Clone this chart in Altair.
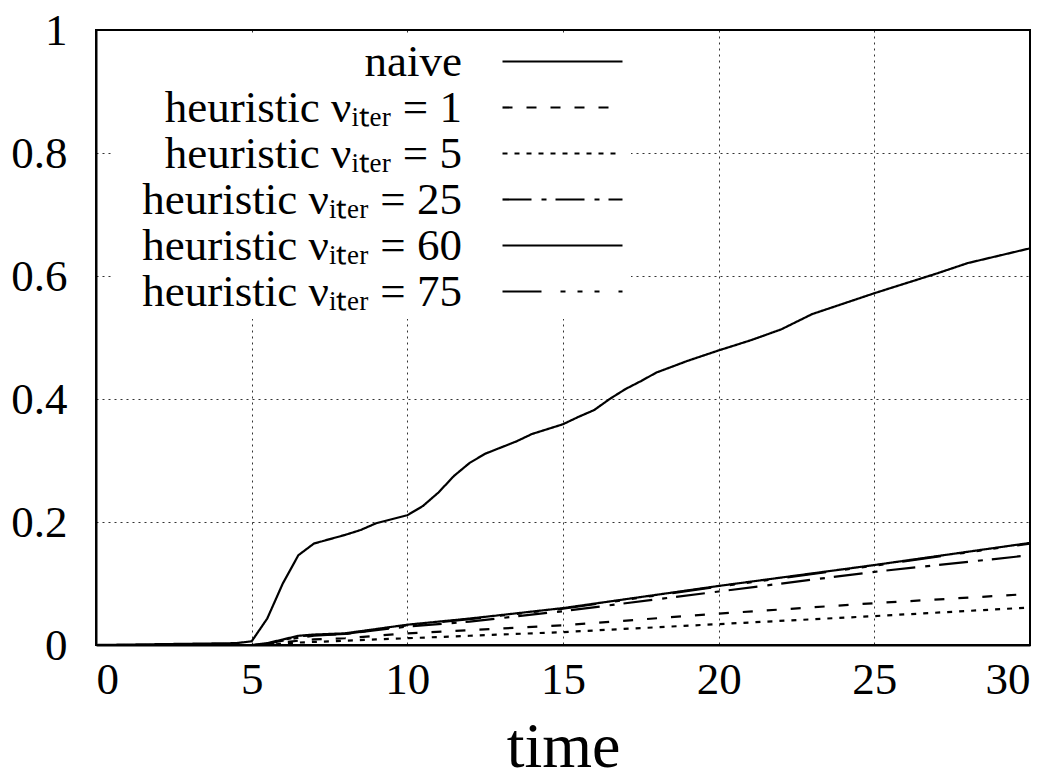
import altair as alt
import pandas as pd

# ---- data ----
t_naive = [0, 4.5, 5, 5.5, 6, 6.5, 7, 8, 8.5, 9, 10, 10.5, 11, 11.5, 12, 12.5,
           13.5, 14, 15, 15.5, 16, 16.5, 17, 17.5, 18, 19, 20, 21, 22, 23, 24,
           25, 26, 27, 28, 29, 30]
naive = [0, 0.003, 0.006, 0.043, 0.100, 0.146, 0.165, 0.179, 0.187, 0.198, 0.211,
         0.226, 0.248, 0.275, 0.296, 0.311, 0.331, 0.343, 0.359, 0.371, 0.382,
         0.400, 0.416, 0.429, 0.443, 0.462, 0.479, 0.495, 0.513, 0.538, 0.555,
         0.572, 0.588, 0.604, 0.621, 0.633, 0.645]

t_heur = [0, 5, 5.5, 6, 6.5, 7, 8, 9, 10, 12, 15, 20, 25, 30]
nu1 = [0, 0, 0.001, 0.004, 0.007, 0.009, 0.011, 0.015, 0.019, 0.024, 0.032, 0.051, 0.068, 0.083]
nu5 = [0, 0, 0.000, 0.002, 0.004, 0.005, 0.007, 0.009, 0.011, 0.015, 0.021, 0.034, 0.047, 0.061]
nu25 = [0, 0, 0.002, 0.007, 0.012, 0.015, 0.018, 0.024, 0.030, 0.038, 0.055, 0.087, 0.119, 0.146]
nu60 = [0, 0, 0.003, 0.009, 0.015, 0.017, 0.019, 0.026, 0.033, 0.043, 0.060, 0.096, 0.130, 0.166]
nu75 = [0, 0, 0.002, 0.008, 0.014, 0.016, 0.018, 0.025, 0.032, 0.042, 0.059, 0.095, 0.129, 0.165]

series_names = [
    "naive",
    "heuristic νᵢₜₑᵣ = 1",
    "heuristic νᵢₜₑᵣ = 5",
    "heuristic νᵢₜₑᵣ = 25",
    "heuristic νᵢₜₑᵣ = 60",
    "heuristic νᵢₜₑᵣ = 75",
]
dash_styles = [[1, 0], [10, 14], [5, 7], [29, 10, 5, 9], [1, 0],
               [39, 19, 5, 12, 5, 12, 5, 19]]

x_ticks = [0, 5, 10, 15, 20, 25, 30]
y_ticks = [0, 0.2, 0.4, 0.6, 0.8, 1]

rows = []
for t, v in zip(t_naive, naive):
    rows.append({"time": t, "value": v, "series": series_names[0]})
for name, vals in zip(series_names[1:], [nu1, nu5, nu25, nu60, nu75]):
    for t, v in zip(t_heur, vals):
        rows.append({"time": t, "value": v, "series": name})
df = pd.DataFrame(rows)

FONT = "Liberation Serif"

chart = alt.Chart(df).mark_line(color="black", strokeWidth=2.2, clip=True).encode(
    x=alt.X("time:Q",
            scale=alt.Scale(domain=[0, 30], nice=False, zero=False),
            axis=alt.Axis(values=x_ticks, title="time", format="~g",
                          labelPadding=12, titlePadding=13,
                          titleFontSize=64, titleFontWeight="normal")),
    y=alt.Y("value:Q",
            scale=alt.Scale(domain=[0, 1], nice=False),
            axis=alt.Axis(values=y_ticks, title=None, format="~g",
                          labelPadding=29)),
    strokeDash=alt.StrokeDash(
        "series:N",
        scale=alt.Scale(domain=series_names, range=dash_styles),
        legend=alt.Legend(
            title=None, orient="none", legendX=18, legendY=5,
            symbolType="M-6,0H6", symbolSize=400, symbolStrokeWidth=2.2,
            symbolStrokeColor="black", symbolOffset=422,
            labelFontSize=45, labelFont=FONT,
            labelAlign="right", labelOffset={"expr": "-123"}, labelLimit=0,
            labelColor="black", rowPadding={"expr": "-1"},
            fillColor="white", padding=4,
        ),
    ),
).properties(
    width=934, height=615,
    autosize=alt.AutoSizeParams(type="none"),
    padding={"left": 88, "top": 22, "right": 10, "bottom": 132},
).configure_axis(
    labelFont=FONT, labelFontSize=45, labelColor="black",
    titleFont=FONT, titleColor="black",
    ticks=False, domainColor="black", domainWidth=2,
    grid=True, gridColor="black", gridDash=[2, 4], gridWidth=1, gridOpacity=0.8,
).configure_view(stroke="black", strokeWidth=2)

chart.save("out.html", embed_options={"renderer": "svg", "actions": False})
